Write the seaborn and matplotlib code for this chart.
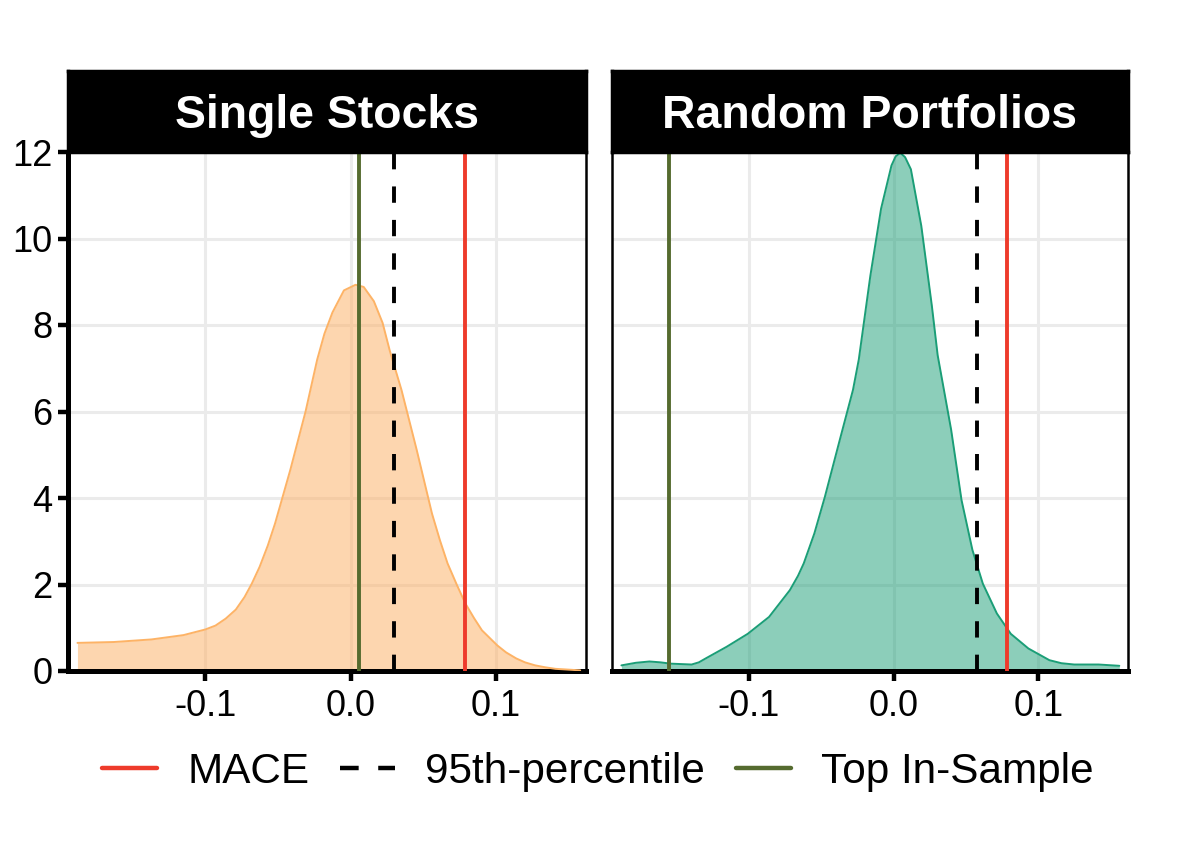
import numpy as np
import pandas as pd
import matplotlib
matplotlib.use("Agg")
import matplotlib.pyplot as plt
import seaborn as sns

# ---- data ----
panels = ["Single Stocks", "Random Portfolios"]

ss_x = [-0.188, -0.163, -0.137, -0.115, -0.100, -0.093, -0.086, -0.079, -0.073,
        -0.068, -0.0626, -0.057, -0.052, -0.0415, -0.031, -0.027, -0.023, -0.018,
        -0.0125, -0.0046, 0.0034, 0.009, 0.016, 0.022, 0.027, 0.031, 0.035,
        0.0455, 0.056, 0.0615, 0.0667, 0.073, 0.079, 0.085, 0.0904, 0.101,
        0.107, 0.114, 0.120, 0.127, 0.134, 0.141, 0.158]
ss_y = [0.65, 0.67, 0.73, 0.83, 0.96, 1.05, 1.21, 1.42, 1.71,
        2.02, 2.41, 2.90, 3.41, 4.65, 6.0, 6.6, 7.2, 7.8,
        8.29, 8.80, 8.93, 8.88, 8.55, 8.05, 7.4, 6.95, 6.5,
        5.11, 3.64, 3.02, 2.49, 2.0, 1.56, 1.22, 0.94, 0.59,
        0.43, 0.29, 0.20, 0.13, 0.085, 0.05, 0.015]

rp_x = [-0.188, -0.178, -0.1686, -0.161, -0.154, -0.1395, -0.1345, -0.1298, -0.1153,
        -0.1007, -0.086, -0.0716, -0.066, -0.062, -0.0547, -0.0474, -0.0377, -0.028,
        -0.024, -0.016, -0.0086, -0.0014, 0.0015, 0.0047, 0.008, 0.012, 0.0192,
        0.0265, 0.0305, 0.0398, 0.047, 0.0545, 0.0617, 0.0714, 0.081, 0.0932,
        0.1077, 0.116, 0.1248, 0.1417, 0.156]
rp_y = [0.13, 0.19, 0.22, 0.20, 0.17, 0.15, 0.20, 0.29, 0.56,
        0.86, 1.25, 1.87, 2.20, 2.49, 3.18, 4.03, 5.27, 6.5,
        7.2, 9.14, 10.69, 11.69, 11.90, 11.98, 11.88, 11.6, 10.29,
        8.44, 7.3, 5.58, 3.95, 2.8, 2.02, 1.33, 0.86, 0.52,
        0.25, 0.18, 0.15, 0.15, 0.12]

mace = [0.079, 0.0786]
p95 = [0.030, 0.0575]
top_in_sample = [0.006, -0.155]

x_ticks = [-0.1, 0.0, 0.1]
x_tick_labels = ["-0.1", "0.0", "0.1"]
y_ticks = [0, 2, 4, 6, 8, 10, 12]
legend_labels = ["MACE", "95th-percentile", "Top In-Sample"]

# ---- styling ----
fill_colors = ["#FDAE61", "#1B9E77"]
edge_colors = ["#FDB366", "#1B9E77"]
red = "#EE3B2B"
olive = "#556B2F"

sns.set_theme(style="white")
plt.rcParams["font.family"] = ["Liberation Sans", "DejaVu Sans"]
plt.rcParams["text.color"] = "black"

W, H = 1196, 852
fig = plt.figure(figsize=(W / 200, H / 200), dpi=200)

panel_boxes = [(68, 586), (612, 1128)]
top_px, bottom_px, strip_top_px = 152, 671, 71

densities = [(ss_x, ss_y), (rp_x, rp_y)]
axes = []
for i, name in enumerate(panels):
    l, r = panel_boxes[i]
    ax = fig.add_axes([l / W, 1 - bottom_px / H, (r - l) / W, (bottom_px - top_px) / H])
    axes.append(ax)
    df = pd.DataFrame({"x": densities[i][0], "y": densities[i][1]})
    ax.fill_between(df["x"], df["y"], 0, color=fill_colors[i], alpha=0.5, lw=0, zorder=2)
    sns.lineplot(data=df, x="x", y="y", ax=ax, color=edge_colors[i], lw=0.7, zorder=3)
    ax.axvline(mace[i], color=red, lw=1.4, zorder=4, label=legend_labels[0])
    ax.axvline(p95[i], color="black", lw=1.4, ls=(0, (4.2, 4.4)), zorder=4, label=legend_labels[1])
    ax.axvline(top_in_sample[i], color=olive, lw=1.4, zorder=4, label=legend_labels[2])

    ax.set_xlim(-0.1945, 0.162)
    ax.set_ylim(0, 12)
    ax.set_xticks(x_ticks)
    ax.set_xticklabels(x_tick_labels)
    ax.set_yticks(y_ticks)
    ax.set_xlabel("")
    ax.set_ylabel("")
    ax.grid(True, color="#EBEBEB", lw=1.1)
    ax.set_axisbelow(True)
    ax.set_facecolor("white")
    for s in ["top", "right", "left", "bottom"]:
        ax.spines[s].set_visible(True)
        ax.spines[s].set_color("black")
        ax.spines[s].set_linewidth(0.9)
    ax.spines["bottom"].set_linewidth(1.8)
    ax.tick_params(axis="x", which="major", bottom=True, length=3.6, width=1.6,
                   color="black", labelsize=13, labelcolor="black", pad=3)
    if i == 0:
        ax.spines["left"].set_linewidth(1.8)
        ax.tick_params(axis="y", which="major", left=True, length=3.6, width=1.6,
                       color="black", labelsize=13, labelcolor="black", pad=2)
    else:
        ax.tick_params(axis="y", left=False, labelleft=False)

    # facet strip
    sax = fig.add_axes([l / W, 1 - top_px / H, (r - l) / W, (top_px - strip_top_px) / H])
    sax.set_facecolor("black")
    sax.set_xticks([])
    sax.set_yticks([])
    for s in sax.spines.values():
        s.set_color("black")
    sax.text(0.5, 0.30, name, color="white", fontsize=16.7, fontweight="bold",
             ha="center", va="baseline", transform=sax.transAxes)

handles, labels = axes[0].get_legend_handles_labels()
order = [labels.index(lab) for lab in legend_labels]
leg = fig.legend([handles[k] for k in order], [labels[k] for k in order],
                 loc="center", bbox_to_anchor=(0.5, 1 - 772 / H), ncol=3, frameon=False,
                 fontsize=15.2, handlelength=1.3, handletextpad=0.72, columnspacing=0.72)
for t in leg.get_texts():
    t.set_color("black")
for h in leg.legend_handles:
    h.set_linewidth(1.6)

fig.savefig("out.png", dpi=200, facecolor="white")
